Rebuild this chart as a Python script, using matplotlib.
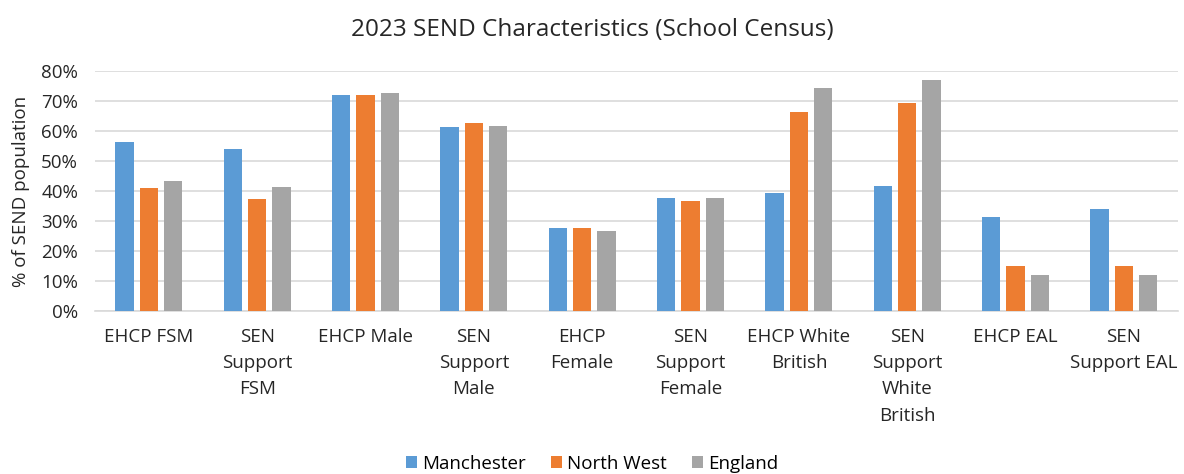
import matplotlib.pyplot as plt
import numpy as np
from matplotlib.ticker import PercentFormatter

plt.rcParams['font.family'] = ['Open Sans', 'DejaVu Sans']

categories = ['EHCP FSM', 'SEN\nSupport\nFSM', 'EHCP Male', 'SEN\nSupport\nMale',
              'EHCP\nFemale', 'SEN\nSupport\nFemale', 'EHCP White\nBritish',
              'SEN\nSupport\nWhite\nBritish', 'EHCP EAL', 'SEN\nSupport EAL']
manchester = [56.2, 53.9, 72.1, 61.3, 27.5, 37.8, 39.5, 41.7, 31.4, 34.0]
north_west = [40.9, 37.2, 72.1, 62.8, 27.5, 36.7, 66.2, 69.4, 15.1, 15.1]
england = [43.3, 41.3, 72.7, 61.6, 26.7, 37.8, 74.3, 77.1, 12.1, 12.1]

series = [('Manchester', manchester, '#5B9BD5'),
          ('North West', north_west, '#ED7D31'),
          ('England', england, '#A5A5A5')]

fig = plt.figure(figsize=(11.84, 4.74), dpi=100)
ax = fig.add_axes([0.080, 0.344, 0.915, 0.506])

x = np.arange(len(categories))
for i, (name, vals, col) in enumerate(series):
    ax.bar(x + (i - 1) * 0.225, vals, width=0.17, color=col, label=name, zorder=3)

ax.set_ylim(0, 80)
ax.set_xlim(-0.5, len(categories) - 0.5)
ax.set_yticks(np.arange(0, 81, 10))
ax.yaxis.set_major_formatter(PercentFormatter(decimals=0))
ax.grid(axis='y', color='#D9D9D9', linewidth=1.2, zorder=0)
for s in ['top', 'right', 'left']:
    ax.spines[s].set_visible(False)
ax.spines['bottom'].set_color('#D9D9D9')
ax.spines['bottom'].set_linewidth(1.2)
ax.tick_params(axis='both', length=0, labelsize=13.5, colors='#262626')
ax.tick_params(axis='y', pad=12)
ax.set_xticks(x)
ax.set_xticklabels(categories, linespacing=1.6, va='top')
ax.tick_params(axis='x', pad=12)

ax.set_ylabel('% of SEND population', fontsize=13.5, color='#262626', labelpad=8)
fig.suptitle('2023 SEND Characteristics (School Census)', fontsize=17.5, color='#262626', y=0.963)

fig.legend(*ax.get_legend_handles_labels(), loc='center', bbox_to_anchor=(0.5, 0.022), ncol=3,
           frameon=False, fontsize=13.5, handlelength=0.6, handleheight=0.6,
           handletextpad=0.3, columnspacing=1.3, borderpad=0.1)

fig.savefig('out.png', dpi=100)
